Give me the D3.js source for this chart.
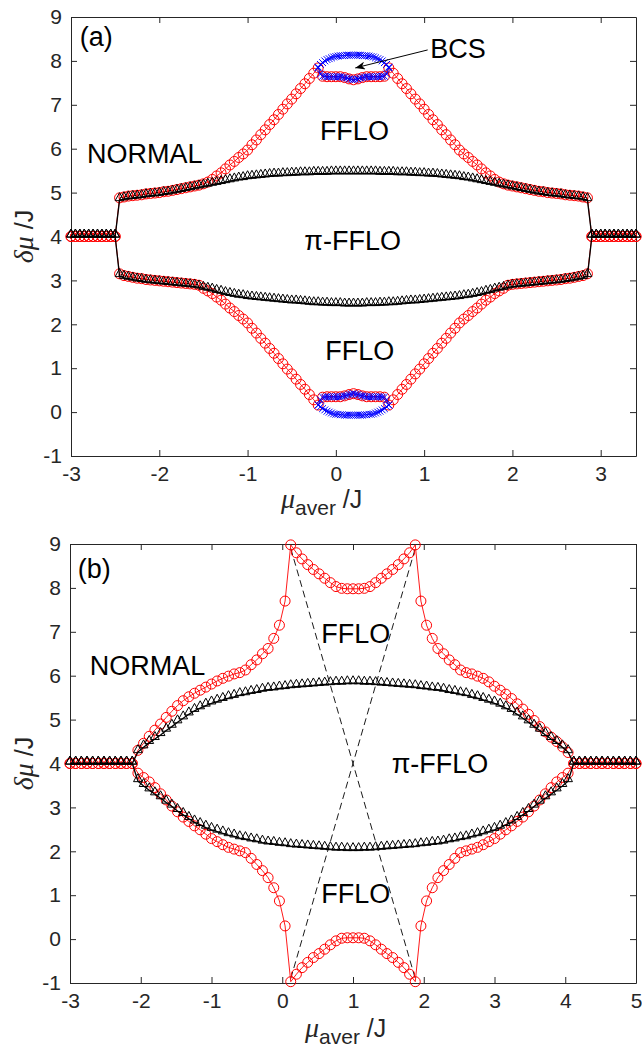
<!DOCTYPE html>
<html>
<head>
<meta charset="utf-8">
<script src="https://cdn.jsdelivr.net/npm/d3@7/dist/d3.min.js"></script>
<style>
  body { margin: 0; background: #fff; }
  svg { display: block; }
</style>
</head>
<body>
<div id="chart"></div>
<script>
// ---------- panel (a) data ----------
const aX = [
  -3.00,-2.95,-2.90,-2.85,-2.80,-2.75,-2.70,-2.65,-2.60,-2.55,
  -2.50,-2.45,-2.40,-2.35,-2.30,-2.25,-2.20,-2.15,-2.10,-2.05,
  -2.00,-1.95,-1.90,-1.85,-1.80,-1.75,-1.70,-1.65,-1.60,-1.55,
  -1.50,-1.45,-1.40,-1.35,-1.30,-1.25,-1.20,-1.15,-1.10,-1.05,
  -1.00,-0.95,-0.90,-0.85,-0.80,-0.75,-0.70,-0.65,-0.60,-0.55,
  -0.50,-0.45,-0.40,-0.35,-0.30,-0.25,-0.20,-0.15,-0.10,-0.05,
  0.00,0.05,0.10,0.15,0.20,0.25,0.30,0.35,0.40,0.45,
  0.50,0.55,0.60,0.65,0.70,0.75,0.80,0.85,0.90,0.95,
  1.00,1.05,1.10,1.15,1.20,1.25,1.30,1.35,1.40,1.45,
  1.50,1.55,1.60,1.65,1.70,1.75,1.80,1.85,1.90,1.95,
  2.00,2.05,2.10,2.15,2.20,2.25,2.30,2.35,2.40,2.45,
  2.50,2.55,2.60,2.65,2.70,2.75,2.80,2.85,2.90,2.95,
  3.00,3.05,3.10,3.15,3.20,3.25,3.30,3.35,3.40
];
const aRedUp = [
  4,4,4,4,4,4,4,4,4,4,
  4,4.88,4.90,4.92,4.93,4.94,4.95,4.97,4.98,4.99,
  5.00,5.02,5.03,5.05,5.07,5.09,5.11,5.13,5.15,5.17,
  5.20,5.24,5.30,5.38,5.45,5.54,5.63,5.71,5.80,5.88,
  5.97,6.09,6.20,6.32,6.43,6.55,6.66,6.78,6.90,7.02,
  7.13,7.25,7.37,7.48,7.60,7.72,7.84,7.65,7.64,7.64,
  7.64,7.64,7.62,7.59,7.57,7.59,7.62,7.64,7.64,7.64,
  7.64,7.65,7.84,7.72,7.60,7.48,7.37,7.25,7.13,7.02,
  6.90,6.78,6.66,6.55,6.43,6.32,6.20,6.09,5.97,5.88,
  5.80,5.71,5.63,5.54,5.45,5.38,5.30,5.24,5.20,5.17,
  5.15,5.13,5.11,5.09,5.07,5.05,5.03,5.02,5.00,4.99,
  4.98,4.97,4.95,4.94,4.93,4.92,4.90,4.88,4,4,
  4,4,4,4,4,4,4,4,4
];
const aRedLo = [
  4,4,4,4,4,4,4,4,4,4,
  4,3.15,3.11,3.09,3.07,3.05,3.04,3.02,3.01,3.00,
  2.99,2.98,2.97,2.96,2.95,2.94,2.93,2.92,2.91,2.89,
  2.82,2.76,2.70,2.62,2.55,2.46,2.37,2.29,2.20,2.12,
  2.03,1.91,1.80,1.68,1.57,1.45,1.34,1.22,1.10,0.98,
  0.87,0.75,0.63,0.52,0.40,0.28,0.16,0.34,0.35,0.35,
  0.35,0.35,0.37,0.40,0.42,0.40,0.37,0.35,0.35,0.35,
  0.35,0.34,0.16,0.28,0.40,0.52,0.63,0.75,0.87,0.98,
  1.10,1.22,1.34,1.45,1.57,1.68,1.80,1.91,2.03,2.12,
  2.20,2.29,2.37,2.46,2.55,2.62,2.70,2.76,2.82,2.89,
  2.91,2.92,2.93,2.94,2.95,2.96,2.97,2.98,2.99,3.00,
  3.01,3.02,3.04,3.05,3.07,3.09,3.11,3.15,4,4,
  4,4,4,4,4,4,4,4,4
];
const aBlackUp = [
  4,4,4,4,4,4,4,4,4,4,
  4,4.83,4.85,4.87,4.88,4.89,4.90,4.92,4.93,4.94,
  4.95,4.97,4.98,5.00,5.02,5.04,5.06,5.08,5.10,5.12,
  5.14,5.16,5.18,5.20,5.22,5.24,5.26,5.28,5.30,5.31,
  5.33,5.34,5.35,5.36,5.37,5.38,5.39,5.39,5.40,5.40,
  5.41,5.41,5.42,5.42,5.42,5.43,5.43,5.43,5.43,5.44,
  5.44,5.44,5.44,5.44,5.44,5.44,5.44,5.44,5.44,5.44,
  5.43,5.43,5.43,5.43,5.42,5.42,5.42,5.41,5.41,5.40,
  5.40,5.39,5.39,5.38,5.37,5.36,5.35,5.34,5.33,5.31,
  5.30,5.28,5.26,5.24,5.22,5.20,5.18,5.16,5.14,5.12,
  5.10,5.08,5.06,5.04,5.02,5.00,4.98,4.97,4.95,4.94,
  4.93,4.92,4.90,4.89,4.88,4.87,4.85,4.83,4,4,
  4,4,4,4,4,4,4,4,4
];
const aBlackLo = [
  4,4,4,4,4,4,4,4,4,4,
  4,3.10,3.06,3.04,3.02,3.00,2.99,2.97,2.96,2.95,
  2.94,2.93,2.92,2.91,2.90,2.89,2.88,2.87,2.86,2.84,
  2.81,2.79,2.77,2.74,2.72,2.69,2.67,2.65,2.63,2.62,
  2.60,2.59,2.58,2.57,2.56,2.55,2.54,2.53,2.52,2.51,
  2.50,2.50,2.49,2.48,2.47,2.46,2.46,2.45,2.45,2.44,
  2.44,2.44,2.43,2.43,2.43,2.43,2.43,2.44,2.44,2.44,
  2.45,2.45,2.46,2.46,2.47,2.48,2.49,2.50,2.50,2.51,
  2.52,2.53,2.54,2.55,2.56,2.57,2.58,2.59,2.60,2.62,
  2.63,2.65,2.67,2.69,2.72,2.74,2.77,2.79,2.81,2.84,
  2.86,2.87,2.88,2.89,2.90,2.91,2.92,2.93,2.94,2.95,
  2.96,2.97,2.99,3.00,3.02,3.04,3.06,3.10,4,4,
  4,4,4,4,4,4,4,4,4
];
const aBlueX = [
  -0.200,-0.175,-0.150,-0.125,-0.100,-0.075,-0.050,-0.025,0.000,0.025,0.050,
  0.075,0.100,0.125,0.150,0.175,0.200,0.225,0.250,0.275,0.300,0.325,
  0.350,0.375,0.400,0.425,0.450,0.475,0.500,0.525,0.550,0.575,0.600
];
const aBlueUp = [
  7.86,7.92,7.96,8.00,8.03,8.05,8.07,8.09,8.10,8.11,8.12,
  8.12,8.12,8.13,8.13,8.13,8.13,8.13,8.13,8.13,8.12,8.12,
  8.12,8.11,8.10,8.09,8.07,8.05,8.03,8.00,7.96,7.92,7.86
];
const aBlueUpIn = [
  7.84,7.70,7.65,7.65,7.64,7.64,7.64,7.64,7.64,7.64,7.64,
  7.63,7.62,7.61,7.59,7.58,7.57,7.58,7.59,7.61,7.62,7.63,
  7.64,7.64,7.64,7.64,7.64,7.64,7.64,7.65,7.65,7.70,7.84
];
const aBlueLo = [
  0.16,0.12,0.08,0.05,0.02,0.00,-0.02,-0.04,-0.05,-0.05,-0.06,
  -0.06,-0.07,-0.07,-0.07,-0.07,-0.07,-0.07,-0.07,-0.07,-0.07,-0.06,
  -0.06,-0.05,-0.05,-0.04,-0.02,0.00,0.02,0.05,0.08,0.12,0.16
];
const aBlueLoIn = [
  0.16,0.28,0.34,0.34,0.35,0.35,0.35,0.35,0.35,0.35,0.35,
  0.36,0.37,0.38,0.40,0.41,0.42,0.41,0.40,0.38,0.37,0.36,
  0.35,0.35,0.35,0.35,0.35,0.35,0.35,0.34,0.34,0.28,0.16
];

// ---------- panel (b) data ----------
const bX = [
  -3.00,-2.92,-2.84,-2.76,-2.68,-2.60,-2.52,-2.44,-2.36,-2.28,
  -2.20,-2.12,-2.04,-1.96,-1.88,-1.80,-1.72,-1.64,-1.56,-1.48,
  -1.40,-1.32,-1.24,-1.16,-1.08,-1.00,-0.92,-0.84,-0.76,-0.68,
  -0.60,-0.52,-0.44,-0.36,-0.28,-0.20,-0.12,-0.04,0.04,0.12,
  0.20,0.28,0.36,0.44,0.52,0.60,0.68,0.76,0.84,0.92,
  1.00,1.08,1.16,1.24,1.32,1.40,1.48,1.56,1.64,1.72,
  1.80,1.88,1.96,2.04,2.12,2.20,2.28,2.36,2.44,2.52,
  2.60,2.68,2.76,2.84,2.92,3.00,3.08,3.16,3.24,3.32,
  3.40,3.48,3.56,3.64,3.72,3.80,3.88,3.96,4.04,4.12,
  4.20,4.28,4.36,4.44,4.52,4.60,4.68,4.76,4.84,4.92,
  5.00
];
const bRedUp = [
  4,4,4,4,4,4,4,4,4,4,
  4,4,4.30,4.46,4.62,4.76,4.90,5.05,5.19,5.32,
  5.43,5.52,5.60,5.67,5.74,5.81,5.88,5.94,5.99,6.04,
  6.07,6.13,6.25,6.36,6.50,6.62,6.85,7.15,7.70,8.98,
  8.80,8.66,8.53,8.42,8.32,8.22,8.12,8.03,7.99,7.98,
  7.98,7.98,7.99,8.03,8.12,8.22,8.32,8.42,8.53,8.66,
  8.80,8.98,7.70,7.15,6.85,6.62,6.50,6.36,6.25,6.13,
  6.07,6.04,5.99,5.94,5.86,5.76,5.67,5.58,5.48,5.36,
  5.24,5.12,4.98,4.84,4.72,4.60,4.50,4.38,4.25,4,
  4,4,4,4,4,4,4,4,4,4,
  4
];
const bRedLo = [
  4,4,4,4,4,4,4,4,4,4,
  4,4,3.78,3.68,3.58,3.45,3.31,3.17,3.03,2.90,
  2.78,2.68,2.58,2.49,2.39,2.29,2.22,2.15,2.09,2.05,
  2.01,1.97,1.84,1.70,1.56,1.40,1.17,0.87,0.30,-0.97,
  -0.80,-0.65,-0.53,-0.42,-0.33,-0.23,-0.13,-0.04,0.02,0.03,
  0.03,0.03,0.02,-0.04,-0.13,-0.23,-0.33,-0.42,-0.53,-0.65,
  -0.80,-0.97,0.30,0.87,1.17,1.40,1.56,1.70,1.84,1.97,
  2.01,2.05,2.09,2.15,2.22,2.29,2.39,2.49,2.58,2.68,
  2.78,2.90,3.03,3.17,3.31,3.45,3.58,3.68,3.78,4,
  4,4,4,4,4,4,4,4,4,4,
  4
];
const bBlackUp = [
  4,4,4,4,4,4,4,4,4,4,
  4,4,4.26,4.37,4.47,4.56,4.65,4.75,4.84,4.94,
  5.03,5.12,5.20,5.26,5.32,5.37,5.41,5.45,5.49,5.52,
  5.56,5.58,5.61,5.63,5.66,5.68,5.69,5.71,5.72,5.74,
  5.75,5.76,5.77,5.78,5.79,5.80,5.81,5.82,5.82,5.83,
  5.83,5.83,5.82,5.82,5.81,5.80,5.79,5.78,5.77,5.76,
  5.75,5.74,5.72,5.71,5.69,5.68,5.66,5.63,5.61,5.58,
  5.56,5.52,5.49,5.45,5.41,5.37,5.32,5.26,5.20,5.12,
  5.03,4.94,4.84,4.75,4.65,4.56,4.47,4.37,4.26,4,
  4,4,4,4,4,4,4,4,4,4,
  4
];
const bBlackLo = [
  4,4,4,4,4,4,4,4,4,4,
  4,4,3.60,3.49,3.39,3.30,3.21,3.11,3.02,2.92,
  2.83,2.74,2.66,2.60,2.54,2.49,2.45,2.41,2.37,2.34,
  2.30,2.28,2.25,2.23,2.20,2.18,2.17,2.15,2.14,2.12,
  2.11,2.10,2.09,2.08,2.07,2.06,2.05,2.04,2.04,2.03,
  2.03,2.03,2.04,2.04,2.05,2.06,2.07,2.08,2.09,2.10,
  2.11,2.12,2.14,2.15,2.17,2.18,2.20,2.23,2.25,2.28,
  2.30,2.34,2.37,2.41,2.45,2.49,2.54,2.60,2.66,2.74,
  2.83,2.92,3.02,3.11,3.21,3.30,3.39,3.49,3.60,4,
  4,4,4,4,4,4,4,4,4,4,
  4
];
const bDashX = [0.12, 1.88];
const bDash1Y = [8.9, -0.9];
const bDash2Y = [-0.9, 8.9];

// ---------- ticks ----------
const yTicks = [-1, 0, 1, 2, 3, 4, 5, 6, 7, 8, 9];
const aXTicks = [-3, -2, -1, 0, 1, 2, 3];
const bXTicks = [-3, -2, -1, 0, 1, 2, 3, 4, 5];

const SANS = '"Liberation Sans", Arial, Helvetica, sans-serif';
const SERIF = '"Liberation Serif", "Times New Roman", serif';
const AXIS_COLOR = '#262626';

const svg = d3.select('#chart')
  .append('svg')
  .attr('width', 642)
  .attr('height', 1052);

// arrow head for the BCS pointer
svg.append('defs')
  .append('marker')
  .attr('id', 'arrowHead')
  .attr('viewBox', '0 0 10 8')
  .attr('refX', 10)
  .attr('refY', 4)
  .attr('markerWidth', 10)
  .attr('markerHeight', 8)
  .attr('markerUnits', 'userSpaceOnUse')
  .attr('orient', 'auto')
  .append('path')
  .attr('d', 'M0,0L10,4L0,8L3,4Z')
  .attr('fill', '#000');

// triangle sits just above the data point, the line runs along its base
const triPath = 'M0,-7.4L4.4,0.6L-4.4,0.6Z';
const crossPath = 'M-3.4,-3.4L3.4,3.4M-3.4,3.4L3.4,-3.4';

const drawSeries = (g, x, y, xs, ys, color, marker) => {
  const pts = xs.map((v, i) => [x(v), y(ys[i])]);
  g.append('path')
    .attr('d', d3.line()(pts))
    .attr('fill', 'none')
    .attr('stroke', color)
    .attr('stroke-width', marker === '^' ? 1.3 : 0.9);
  const m = g.append('g');
  if (marker === 'o') {
    m.selectAll('circle')
      .data(pts)
      .join('circle')
      .attr('cx', d => d[0])
      .attr('cy', d => d[1])
      .attr('r', 5)
      .attr('fill', 'none')
      .attr('stroke', color)
      .attr('stroke-width', 1);
  } else {
    m.selectAll('path')
      .data(pts)
      .join('path')
      .attr('transform', d => `translate(${d[0]},${d[1]})`)
      .attr('d', marker === '^' ? triPath : crossPath)
      .attr('fill', 'none')
      .attr('stroke', color)
      .attr('stroke-width', 1);
  }
};

const styleAxis = g => {
  g.attr('font-size', 21)
    .attr('font-family', SANS)
    .attr('color', AXIS_COLOR);
  g.select('.domain').attr('stroke-width', 1);
};

const drawPanel = p => {
  const x = d3.scaleLinear().domain(p.xDomain).range([p.left, p.right]);
  const y = d3.scaleLinear().domain([-1, 9]).range([p.bottom, p.top]);
  const g = svg.append('g');

  // axes box with inward ticks on all four sides
  g.append('g')
    .attr('transform', `translate(0,${p.bottom})`)
    .call(d3.axisBottom(x).tickValues(p.xTicks).tickSizeInner(-6).tickSizeOuter(0)
      .tickPadding(10).tickFormat(d => String(d)))
    .call(styleAxis);
  g.append('g')
    .attr('transform', `translate(0,${p.top})`)
    .call(d3.axisTop(x).tickValues(p.xTicks).tickSizeInner(-6).tickSizeOuter(0).tickFormat(''))
    .call(styleAxis);
  g.append('g')
    .attr('transform', `translate(${p.left},0)`)
    .call(d3.axisLeft(y).tickValues(yTicks).tickSizeInner(-6).tickSizeOuter(0)
      .tickPadding(9).tickFormat(d => String(d)))
    .call(styleAxis);
  g.append('g')
    .attr('transform', `translate(${p.right},0)`)
    .call(d3.axisRight(y).tickValues(yTicks).tickSizeInner(-6).tickSizeOuter(0).tickFormat(''))
    .call(styleAxis);

  // axis labels
  const midY = (p.top + p.bottom) / 2;
  const yl = g.append('text')
    .attr('transform', `translate(33,${midY}) rotate(-90)`)
    .attr('text-anchor', 'middle')
    .attr('fill', AXIS_COLOR);
  yl.append('tspan').attr('font-family', SERIF).attr('font-style', 'italic').attr('font-size', 28).text('δμ');
  yl.append('tspan').attr('font-family', SANS).attr('font-size', 25).text(' /J');

  const xl = g.append('text')
    .attr('x', p.xLabelX)
    .attr('y', p.xLabelY)
    .attr('fill', AXIS_COLOR);
  xl.append('tspan').attr('font-family', SERIF).attr('font-style', 'italic').attr('font-size', 28).text('μ');
  xl.append('tspan').attr('font-family', SANS).attr('font-size', 21).attr('dy', 7).text('aver');
  xl.append('tspan').attr('font-family', SANS).attr('font-size', 25).attr('dy', -7).text(' /J');

  return { g, x, y };
};

// ---------- panel (a) ----------
const pa = drawPanel({
  left: 71, right: 636, top: 17, bottom: 456,
  xDomain: [-3, 3.4], xTicks: aXTicks,
  xLabelX: 281, xLabelY: 508
});
drawSeries(pa.g, pa.x, pa.y, aX, aRedUp, '#ff0000', 'o');
drawSeries(pa.g, pa.x, pa.y, aX, aRedLo, '#ff0000', 'o');
drawSeries(pa.g, pa.x, pa.y, aX, aBlackUp, '#000000', '^');
drawSeries(pa.g, pa.x, pa.y, aX, aBlackLo, '#000000', '^');
drawSeries(pa.g, pa.x, pa.y, aBlueX, aBlueUp, '#0000ff', 'x');
drawSeries(pa.g, pa.x, pa.y, aBlueX, aBlueUpIn, '#0000ff', 'x');
drawSeries(pa.g, pa.x, pa.y, aBlueX, aBlueLo, '#0000ff', 'x');
drawSeries(pa.g, pa.x, pa.y, aBlueX, aBlueLoIn, '#0000ff', 'x');

const label = (panel, xv, yv, txt, anchor) => {
  panel.g.append('text')
    .attr('x', panel.x(xv))
    .attr('y', panel.y(yv))
    .attr('text-anchor', anchor)
    .attr('font-family', SANS)
    .attr('font-size', 27)
    .attr('fill', '#000')
    .text(txt);
};

label(pa, -2.90, 8.34, '(a)', 'start');
label(pa, -2.82, 5.67, 'NORMAL', 'start');
label(pa, 0.21, 6.20, 'FFLO', 'middle');
label(pa, 0.19, 3.69, 'π-FFLO', 'middle');
label(pa, 0.27, 1.19, 'FFLO', 'middle');
label(pa, 1.07, 8.07, 'BCS', 'start');

pa.g.append('line')
  .attr('x1', pa.x(1.04))
  .attr('y1', pa.y(8.25))
  .attr('x2', pa.x(0.22))
  .attr('y2', pa.y(7.84))
  .attr('stroke', '#000')
  .attr('stroke-width', 1)
  .attr('marker-end', 'url(#arrowHead)');

// ---------- panel (b) ----------
const pb = drawPanel({
  left: 70, right: 636, top: 544, bottom: 983,
  xDomain: [-3, 5], xTicks: bXTicks,
  xLabelX: 305, xLabelY: 1037
});
[[bDashX, bDash1Y], [bDashX, bDash2Y]].forEach(([xs, ys]) => {
  pb.g.append('path')
    .attr('d', d3.line()(xs.map((v, i) => [pb.x(v), pb.y(ys[i])])))
    .attr('fill', 'none')
    .attr('stroke', '#000')
    .attr('stroke-width', 0.9)
    .attr('stroke-dasharray', '7 4');
});
drawSeries(pb.g, pb.x, pb.y, bX, bRedUp, '#ff0000', 'o');
drawSeries(pb.g, pb.x, pb.y, bX, bRedLo, '#ff0000', 'o');
drawSeries(pb.g, pb.x, pb.y, bX, bBlackUp, '#000000', '^');
drawSeries(pb.g, pb.x, pb.y, bX, bBlackLo, '#000000', '^');

label(pb, -2.89, 8.23, '(b)', 'start');
label(pb, -2.72, 6.02, 'NORMAL', 'start');
label(pb, 1.04, 6.74, 'FFLO', 'middle');
label(pb, 2.23, 3.78, 'π-FFLO', 'middle');
label(pb, 1.04, 0.82, 'FFLO', 'middle');
</script>
</body>
</html>
